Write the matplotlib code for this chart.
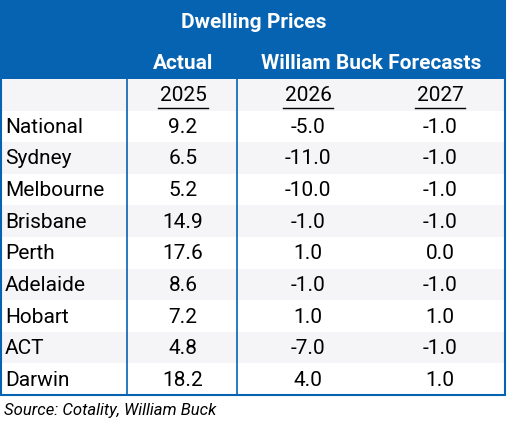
import matplotlib.pyplot as plt
from matplotlib.patches import Rectangle

cities = ["National", "Sydney", "Melbourne", "Brisbane", "Perth",
          "Adelaide", "Hobart", "ACT", "Darwin"]
years = ["2025", "2026", "2027"]
actual_2025 = [9.2, 6.5, 5.2, 14.9, 17.6, 8.6, 7.2, 4.8, 18.2]
fc_2026 = [-5.0, -11.0, -10.0, -1.0, 1.0, -1.0, 1.0, -7.0, 4.0]
fc_2027 = [-1.0, -1.0, -1.0, -1.0, 0.0, -1.0, 1.0, -1.0, 1.0]

W, H = 507, 425
BLUE = "#0563B1"
STRIPE = "#F5F5F8"
plt.rcParams['font.family'] = ['Roboto', 'DejaVu Sans']

fig = plt.figure(figsize=(W / 100, H / 100), dpi=100)
ax = fig.add_axes([0, 0, 1, 1])
ax.set_xlim(0, W)
ax.set_ylim(H, 0)
ax.axis("off")

left, right = 1, 505
top_body, row_h = 79, 31.6
col_x = [5, 183, 308, 440]  # label left edge, then column centres
FS = 15

# header band
ax.add_patch(Rectangle((left, 0), right - left, top_body, color=BLUE, lw=0))
ax.text(W / 2, 22, "Dwelling Prices", color="white", fontsize=FS,
        fontweight="bold", ha="center", va="center")
ax.text(col_x[1], 63, "Actual", color="white", fontsize=FS,
        fontweight="bold", ha="center", va="center")
ax.text(371, 63, "William Buck Forecasts", color="white", fontsize=FS,
        fontweight="bold", ha="center", va="center")

# body rows
for i in range(10):
    y0 = top_body + i * row_h
    if i % 2 == 0:
        ax.add_patch(Rectangle((left, y0), right - left, row_h, color=STRIPE, lw=0))
    yc = y0 + row_h / 2 + 1
    if i == 0:
        for x, yr in zip(col_x[1:], years):
            ax.text(x, yc, yr, fontsize=FS, ha="center", va="center")
            ax.plot([x - 25, x + 25], [yc + 12, yc + 12], color="black", lw=1)
        continue
    k = i - 1
    ax.text(col_x[0], yc, cities[k], fontsize=FS, ha="left", va="center")
    for x, v in zip(col_x[1:], (actual_2025[k], fc_2026[k], fc_2027[k])):
        ax.text(x, yc, f"{v:.1f}", fontsize=FS, ha="center", va="center")

bottom = top_body + 10 * row_h
for x in (127, 237):
    ax.plot([x, x], [top_body, bottom], color=BLUE, lw=1.2)
ax.add_patch(Rectangle((left, 0), right - left, bottom, fill=False,
                       edgecolor=BLUE, lw=1.5))

ax.text(4, 410, "Source: Cotality, William Buck", fontsize=12,
        style="italic", ha="left", va="center")

fig.savefig("out.png", dpi=100)
